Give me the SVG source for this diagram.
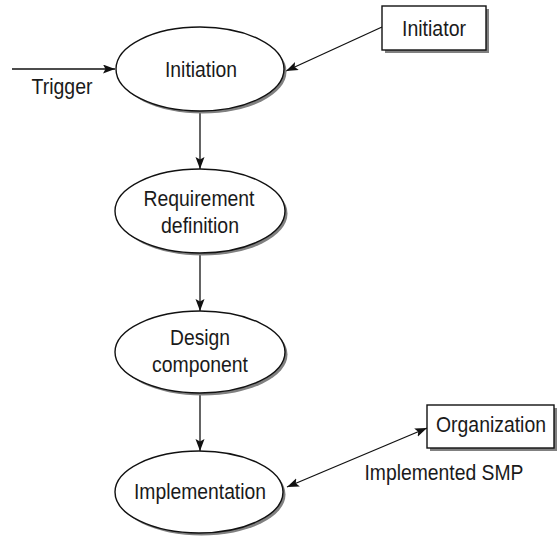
<svg xmlns="http://www.w3.org/2000/svg" width="560" height="537" viewBox="0 0 560 537">
<style>
  .lbl { font-family: "Liberation Sans", Arial, sans-serif; font-size: 22px; fill: #1a1a1a; text-anchor: middle; }
  .shadow { fill: #808080; stroke: none; }
  .shape { fill: #ffffff; stroke: #111111; stroke-width: 1.4; }
  .conn { fill: none; stroke: #111111; stroke-width: 1.3; }
</style>
<defs>
  <marker id="ah" markerUnits="userSpaceOnUse" markerWidth="14" markerHeight="10" refX="12" refY="4.5" orient="auto-start-reverse">
    <path d="M0,0 L12,4.5 L0,9 L2.5,4.5 z" fill="#111111"/>
  </marker>
</defs>
<rect x="0" y="0" width="560" height="537" fill="#ffffff"/>

<g id="connectors">
  <line class="conn" x1="12" y1="69" x2="115" y2="69" marker-end="url(#ah)"/>
  <line class="conn" x1="382" y1="27" x2="286" y2="71" marker-end="url(#ah)"/>
  <line class="conn" x1="200" y1="111" x2="200" y2="169" marker-end="url(#ah)"/>
  <line class="conn" x1="200" y1="253" x2="200" y2="311" marker-end="url(#ah)"/>
  <line class="conn" x1="200" y1="393" x2="200" y2="451" marker-end="url(#ah)"/>
  <line class="conn" x1="287" y1="487" x2="427" y2="428" marker-start="url(#ah)" marker-end="url(#ah)"/>
</g>

<g id="trigger-label">
  <text class="lbl" x="62" y="94" textLength="61" lengthAdjust="spacingAndGlyphs">Trigger</text>
</g>

<g id="initiation">
  <ellipse class="shadow" cx="202.5" cy="71.5" rx="84" ry="42"/>
  <ellipse class="shape" cx="200" cy="69" rx="84" ry="42"/>
  <text class="lbl" x="201" y="77" textLength="72" lengthAdjust="spacingAndGlyphs">Initiation</text>
</g>

<g id="initiator">
  <rect class="shadow" x="385" y="9" width="104" height="44"/>
  <rect class="shape" x="382" y="6" width="104" height="44"/>
  <text class="lbl" x="434" y="36" textLength="64" lengthAdjust="spacingAndGlyphs">Initiator</text>
</g>

<g id="requirement">
  <ellipse class="shadow" cx="202.5" cy="213.5" rx="85" ry="42"/>
  <ellipse class="shape" cx="200" cy="211" rx="85" ry="42"/>
  <text class="lbl" x="199" y="206" textLength="111" lengthAdjust="spacingAndGlyphs">Requirement</text>
  <text class="lbl" x="200" y="233" textLength="78" lengthAdjust="spacingAndGlyphs">definition</text>
</g>

<g id="design">
  <ellipse class="shadow" cx="202.5" cy="354.5" rx="85" ry="41"/>
  <ellipse class="shape" cx="200" cy="352" rx="85" ry="41"/>
  <text class="lbl" x="200" y="345" textLength="60" lengthAdjust="spacingAndGlyphs">Design</text>
  <text class="lbl" x="200" y="372" textLength="96" lengthAdjust="spacingAndGlyphs">component</text>
</g>

<g id="implementation">
  <ellipse class="shadow" cx="201.5" cy="494.5" rx="84" ry="41"/>
  <ellipse class="shape" cx="199" cy="492" rx="84" ry="41"/>
  <text class="lbl" x="200" y="499" textLength="132" lengthAdjust="spacingAndGlyphs">Implementation</text>
</g>

<g id="organization">
  <rect class="shadow" x="430" y="408" width="127" height="43"/>
  <rect class="shape" x="427" y="405" width="127" height="43"/>
  <text class="lbl" x="491" y="432" textLength="110" lengthAdjust="spacingAndGlyphs">Organization</text>
</g>

<g id="smp-label">
  <text class="lbl" x="444" y="480" textLength="159" lengthAdjust="spacingAndGlyphs">Implemented SMP</text>
</g>
</svg>
